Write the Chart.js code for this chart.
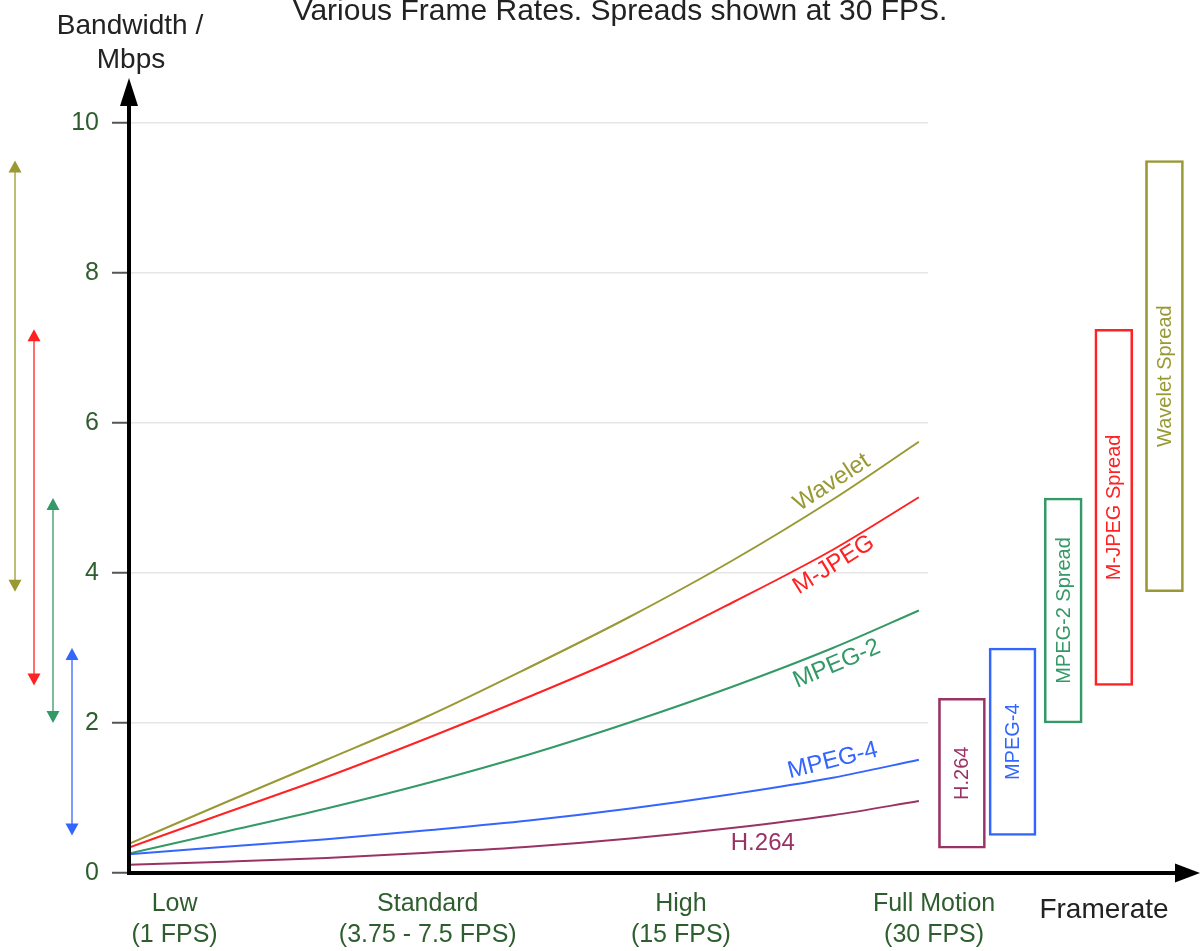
<!DOCTYPE html>
<html>
<head>
<meta charset="utf-8">
<script src="https://cdn.jsdelivr.net/npm/chart.js@4.4.1/dist/chart.umd.min.js"></script>
<style>
  html, body { margin: 0; padding: 0; background: #fff; }
  #wrap { width: 1201px; height: 951px; position: relative; }
</style>
</head>
<body>
<div id="wrap"><canvas id="bandwidth"></canvas></div>
<script>
'use strict';

// x axis: framerate class i sits at x = i
const framerateLabels = [
  ['Low', '(1 FPS)'],
  ['Standard', '(3.75 - 7.5 FPS)'],
  ['High', '(15 FPS)'],
  ['Full Motion', '(30 FPS)']
];
const yTicks = [0, 2, 4, 6, 8, 10];

const xSamples = [-0.18, 0.2, 0.6, 1.0, 1.4, 1.8, 2.2, 2.6, 2.94];

// bandwidth in Mbps
const h264    = [0.11, 0.15, 0.20, 0.27, 0.35, 0.46, 0.60, 0.77, 0.96];
const mpeg4   = [0.25, 0.35, 0.45, 0.57, 0.70, 0.86, 1.05, 1.27, 1.51];
const mpeg2   = [0.26, 0.55, 0.86, 1.20, 1.58, 2.01, 2.48, 3.00, 3.50];
const mjpeg   = [0.34, 0.80, 1.28, 1.80, 2.35, 2.93, 3.60, 4.31, 5.01];
const wavelet = [0.39, 0.94, 1.51, 2.09, 2.74, 3.42, 4.16, 4.98, 5.75];

const codecs = ['H.264', 'MPEG-4', 'MPEG-2', 'M-JPEG', 'Wavelet'];
const series = [h264, mpeg4, mpeg2, mjpeg, wavelet];

// spread at 30 FPS
const spreadLow  = [0.33, 0.50, 2.00, 2.50, 3.75];
const spreadHigh = [2.33, 3.00, 5.00, 7.25, 9.50];

// ---- styling ----
const FONT = "'Liberation Sans', Arial, sans-serif";
const colors = ['#993366', '#3366ff', '#339966', '#ff2222', '#999933'];
const tickGreen = '#2e5e2e';
// curve label placement: [dx, dy, angle in degrees], relative to sample 7
const curveLabelPos = [[-70, 28, 0], [0, -17, -14], [4, 16, -23], [1, 15, -32], [-1, -17, -33]];
const boxSlot = i => 3.11 + 0.2 * i;

function spreadData(idx) {
  return idx.map(i => ({ x: boxSlot(i), y: [spreadLow[i], spreadHigh[i]] }));
}

const lineSets = codecs.map((name, i) => ({
  type: 'line',
  label: name,
  data: xSamples.map((x, k) => ({ x: x, y: series[i][k] })),
  borderColor: colors[i],
  borderWidth: 2,
  pointRadius: 0,
  cubicInterpolationMode: 'monotone',
  fill: false
}));

const wide = [0, 1], narrow = [2, 3, 4];
const barSets = [wide, narrow].map((idx, n) => ({
  type: 'bar',
  label: n ? 'spread-narrow' : 'spread-wide',
  data: spreadData(idx),
  _idx: idx,
  borderColor: idx.map(i => colors[i]),
  backgroundColor: 'rgba(255,255,255,0)',
  borderWidth: 2,
  borderSkipped: false,
  barThickness: n ? 38 : 47,
  grouped: false,
  clip: false
}));

const decorations = {
  id: 'decorations',
  afterDatasetsDraw(chart) {
    const { ctx, chartArea } = chart;
    const y = chart.scales.y;
    const x0 = chartArea.left, y0 = y.getPixelForValue(0);
    ctx.save();
    ctx.strokeStyle = ctx.fillStyle = '#000';
    ctx.lineWidth = 4;
    ctx.beginPath();
    ctx.moveTo(x0, y0 + 2); ctx.lineTo(x0, 100);
    ctx.moveTo(x0 - 2, y0); ctx.lineTo(1180, y0);
    ctx.stroke();
    ctx.beginPath();
    ctx.moveTo(x0, 78); ctx.lineTo(x0 - 9, 106); ctx.lineTo(x0 + 9, 106); ctx.closePath();
    ctx.moveTo(1200, y0); ctx.lineTo(1175, y0 - 9.5); ctx.lineTo(1175, y0 + 9.5); ctx.closePath();
    ctx.fill();
    ctx.restore();
  },
  afterDraw(chart) {
    const { ctx } = chart;
    const x = chart.scales.x, y = chart.scales.y;
    ctx.save();
    ctx.textAlign = 'center';
    ctx.textBaseline = 'alphabetic';
    ctx.fillStyle = '#222';
    ctx.font = '30px ' + FONT;
    ctx.fillText('Various Frame Rates. Spreads shown at 30 FPS.', 620, 20);
    ctx.font = '28px ' + FONT;
    ctx.fillText('Bandwidth /', 130, 34);
    ctx.fillText('Mbps', 131, 68);
    ctx.fillText('Framerate', 1104, 918);

    // labels along the curves
    ctx.textBaseline = 'middle';
    ctx.font = '24px ' + FONT;
    codecs.forEach((name, i) => {
      const [dx, dy, ang] = curveLabelPos[i];
      const px = x.getPixelForValue(xSamples[7]) + dx;
      const py = y.getPixelForValue(series[i][7]) + dy;
      ctx.save();
      ctx.translate(px, py);
      ctx.rotate(ang * Math.PI / 180);
      ctx.fillStyle = colors[i];
      ctx.fillText(name, 0, 0);
      ctx.restore();
    });

    // labels inside the spread boxes
    ctx.font = '20px ' + FONT;
    barSets.forEach((ds, di) => {
      const meta = chart.getDatasetMeta(codecs.length + di);
      ds._idx.forEach((i, j) => {
        const bar = meta.data[j];
        const cy = (y.getPixelForValue(spreadLow[i]) + y.getPixelForValue(spreadHigh[i])) / 2;
        ctx.save();
        ctx.translate(bar.x, cy);
        ctx.rotate(-Math.PI / 2);
        ctx.fillStyle = colors[i];
        ctx.fillText(i < 2 ? codecs[i] : codecs[i] + ' Spread', 0, 1);
        ctx.restore();
      });
    });

    // double arrows on the left repeating the spreads
    for (let i = 1; i < codecs.length; i++) {
      const ax = 15 + 19 * (codecs.length - 1 - i);
      const top = y.getPixelForValue(spreadHigh[i]);
      const bot = y.getPixelForValue(spreadLow[i]);
      ctx.strokeStyle = colors[i];
      ctx.globalAlpha = 0.65;
      ctx.lineWidth = 2;
      ctx.beginPath();
      ctx.moveTo(ax, top + 8); ctx.lineTo(ax, bot - 8);
      ctx.stroke();
      ctx.globalAlpha = 1;
      ctx.fillStyle = colors[i];
      ctx.beginPath();
      ctx.moveTo(ax, top); ctx.lineTo(ax - 6.5, top + 12); ctx.lineTo(ax + 6.5, top + 12); ctx.closePath();
      ctx.moveTo(ax, bot); ctx.lineTo(ax - 6.5, bot - 12); ctx.lineTo(ax + 6.5, bot - 12); ctx.closePath();
      ctx.fill();
    }
    ctx.restore();
  }
};

new Chart(document.getElementById('bandwidth'), {
  type: 'line',
  data: { datasets: lineSets.concat(barSets) },
  options: {
    responsive: true,
    maintainAspectRatio: false,
    animation: false,
    layout: { padding: { left: 69, top: 123, right: 273, bottom: 0 } },
    plugins: { legend: { display: false }, tooltip: { enabled: false } },
    scales: {
      x: {
        type: 'linear',
        offset: false,
        min: -0.18,
        max: 2.976,
        afterBuildTicks: s => { s.ticks = framerateLabels.map((_, i) => ({ value: i })); },
        afterFit: s => { s.height = 78; },
        ticks: {
          autoSkip: false,
          maxRotation: 0,
          padding: 15,
          color: tickGreen,
          font: { family: FONT, size: 25, lineHeight: 1.25 },
          callback: (v, i) => framerateLabels[i]
        },
        grid: { display: false, drawTicks: false, offset: false },
        border: { display: false }
      },
      y: {
        min: 0,
        max: 10,
        afterBuildTicks: s => { s.ticks = yTicks.map(v => ({ value: v })); },
        afterFit: s => { s.width = 60; },
        ticks: {
          padding: 13,
          color: tickGreen,
          font: { family: FONT, size: 25 }
        },
        grid: {
          color: '#e6e6e6',
          lineWidth: 1.5,
          tickColor: '#555',
          tickWidth: 2,
          tickLength: 17
        },
        border: { display: false }
      }
    }
  },
  plugins: [decorations]
});
</script>
</body>
</html>
